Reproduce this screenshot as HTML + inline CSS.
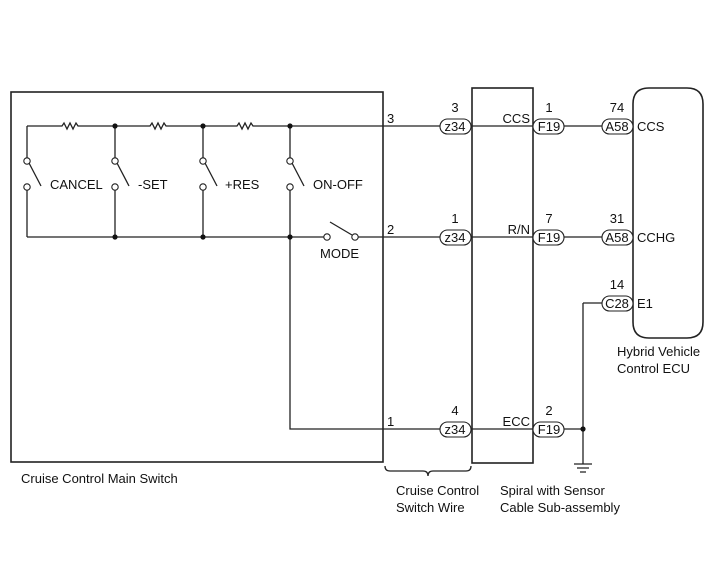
<!DOCTYPE html>
<html><head><style>body{margin:0;background:#fff}svg{display:block}text{font-family:"Liberation Sans",sans-serif;font-size:13px;fill:#111}</style></head><body>
<svg width="713" height="581" viewBox="0 0 713 581" xmlns="http://www.w3.org/2000/svg">
<g stroke="#222" stroke-width="1.3" fill="none">
<rect x="11" y="92" width="372" height="370" stroke-width="1.6"/>
<rect x="472" y="88" width="61" height="375" stroke-width="1.6"/>
<path d="M633,104 Q633,88 649,88 L687,88 Q703,88 703,104 L703,322 Q703,338 687,338 L649,338 Q633,338 633,322 Z" stroke-width="1.6"/>
<path d="M27,126 H62 l2,-3 l3,6 l3,-6 l3,6 l3,-6 l2,3 H150 l2,-3 l3,6 l3,-6 l3,6 l3,-6 l2,3 H237 l2,-3 l3,6 l3,-6 l3,6 l3,-6 l2,3 H441"/>
<path d="M27,237 H324 M358,237 H441"/>
<path d="M27,126 V158 M27,190 V237"/>
<path d="M115,126 V158 M115,190 V237"/>
<path d="M203,126 V158 M203,190 V237"/>
<path d="M290,126 V158 M290,190 V429 H441"/>
<path d="M29,163 L41,186 M117,163 L129,186 M205,163 L217,186 M292,163 L304,186 M330,222 L352,235"/>
<path d="M470,126 H545 M470,237 H545 M470,429 H545"/>
<path d="M564,126 H602 M564,237 H602 M564,429 H583 M583,303 V464 M583,303 H602"/>
<path d="M574,464 H592 M577,468 H589 M580,472 H586"/>
<path d="M385,466 q0,5 5,5 h33 q5,0 5,5 q0,-5 5,-5 h33 q5,0 5,-5"/>
</g>
<g fill="#fff" stroke="#222" stroke-width="1.1">
<circle cx="27" cy="161" r="3.2"/><circle cx="27" cy="187" r="3.2"/>
<circle cx="115" cy="161" r="3.2"/><circle cx="115" cy="187" r="3.2"/>
<circle cx="203" cy="161" r="3.2"/><circle cx="203" cy="187" r="3.2"/>
<circle cx="290" cy="161" r="3.2"/><circle cx="290" cy="187" r="3.2"/>
<circle cx="327" cy="237" r="3.2"/><circle cx="355" cy="237" r="3.2"/>
<rect x="440" y="119" width="31" height="15" rx="7.5"/>
<rect x="440" y="230" width="31" height="15" rx="7.5"/>
<rect x="440" y="422" width="31" height="15" rx="7.5"/>
<rect x="533" y="119" width="31" height="15" rx="7.5"/>
<rect x="533" y="230" width="31" height="15" rx="7.5"/>
<rect x="533" y="422" width="31" height="15" rx="7.5"/>
<rect x="602" y="119" width="31" height="15" rx="7.5"/>
<rect x="602" y="230" width="31" height="15" rx="7.5"/>
<rect x="602" y="296" width="31" height="15" rx="7.5"/>
</g>
<g fill="#111">
<circle cx="115" cy="126" r="2.6"/><circle cx="203" cy="126" r="2.6"/><circle cx="290" cy="126" r="2.6"/>
<circle cx="115" cy="237" r="2.6"/><circle cx="203" cy="237" r="2.6"/><circle cx="290" cy="237" r="2.6"/>
<circle cx="583" cy="429" r="2.6"/>
</g>
<text x="50" y="189">CANCEL</text><text x="138" y="189">-SET</text><text x="225" y="189">+RES</text><text x="313" y="189">ON-OFF</text>
<text x="320" y="258">MODE</text>
<text x="387" y="123">3</text><text x="387" y="234">2</text><text x="387" y="426">1</text>
<g text-anchor="middle">
<text x="455" y="112">3</text><text x="455" y="223">1</text><text x="455" y="415">4</text>
<text x="455" y="131">z34</text><text x="455" y="242">z34</text><text x="455" y="434">z34</text>
<text x="549" y="112">1</text><text x="549" y="223">7</text><text x="549" y="415">2</text>
<text x="549" y="131">F19</text><text x="549" y="242">F19</text><text x="549" y="434">F19</text>
<text x="617" y="112">74</text><text x="617" y="223">31</text><text x="617" y="289">14</text>
<text x="617" y="131">A58</text><text x="617" y="242">A58</text><text x="617" y="308">C28</text>
</g>
<g text-anchor="end"><text x="530" y="123">CCS</text><text x="530" y="234">R/N</text><text x="530" y="426">ECC</text></g>
<text x="637" y="131">CCS</text><text x="637" y="242">CCHG</text><text x="637" y="308">E1</text>
<text x="617" y="356">Hybrid Vehicle</text><text x="617" y="373">Control ECU</text>
<text x="21" y="483">Cruise Control Main Switch</text>
<text x="396" y="495">Cruise Control</text><text x="396" y="512">Switch Wire</text>
<text x="500" y="495">Spiral with Sensor</text><text x="500" y="512">Cable Sub-assembly</text>
</svg>
</body></html>
